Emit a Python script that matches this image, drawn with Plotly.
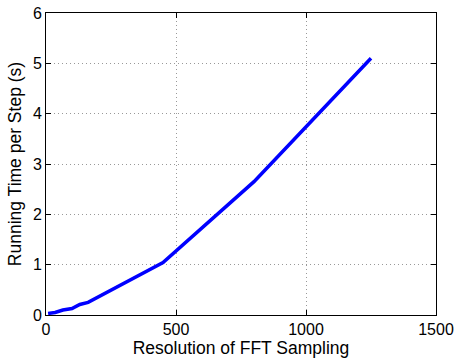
import plotly.graph_objects as go

resolution = [8, 35, 65, 100, 130, 162, 450, 800, 1250]
run_time = [0.03, 0.05, 0.10, 0.13, 0.21, 0.25, 1.04, 2.65, 5.10]

x_ticks = [0, 500, 1000, 1500]
y_ticks = [0, 1, 2, 3, 4, 5, 6]

fig = go.Figure()
fig.add_trace(go.Scatter(x=resolution, y=run_time, mode="lines",
                         line=dict(color="#0000ff", width=3.5)))

axis_common = dict(showline=True, linecolor="black", linewidth=1, mirror="ticks",
                   ticks="inside", ticklen=5, tickcolor="black", automargin=False,
                   showgrid=True, gridcolor="#999999", griddash="1px,3px", gridwidth=1,
                   zeroline=False, tickfont=dict(size=16, color="black"))

fig.update_layout(
    width=457, height=362,
    margin=dict(l=46, r=21, t=13, b=47),
    paper_bgcolor="white", plot_bgcolor="white",
    font=dict(family="Liberation Sans, Arial, sans-serif", size=17, color="black"),
    showlegend=False,
    xaxis=dict(range=[0, 1500], tickvals=x_ticks,
               title=dict(text="Resolution of FFT Sampling", standoff=2, font=dict(size=17.5)),
               **axis_common),
    yaxis=dict(range=[0, 6], tickvals=y_ticks,
               title=dict(text="Running Time per Step (s)", standoff=6, font=dict(size=17.5)),
               **axis_common),
)

fig.write_html("out.html", config={"displayModeBar": False},
               post_script="document.body.style.margin='0';")
